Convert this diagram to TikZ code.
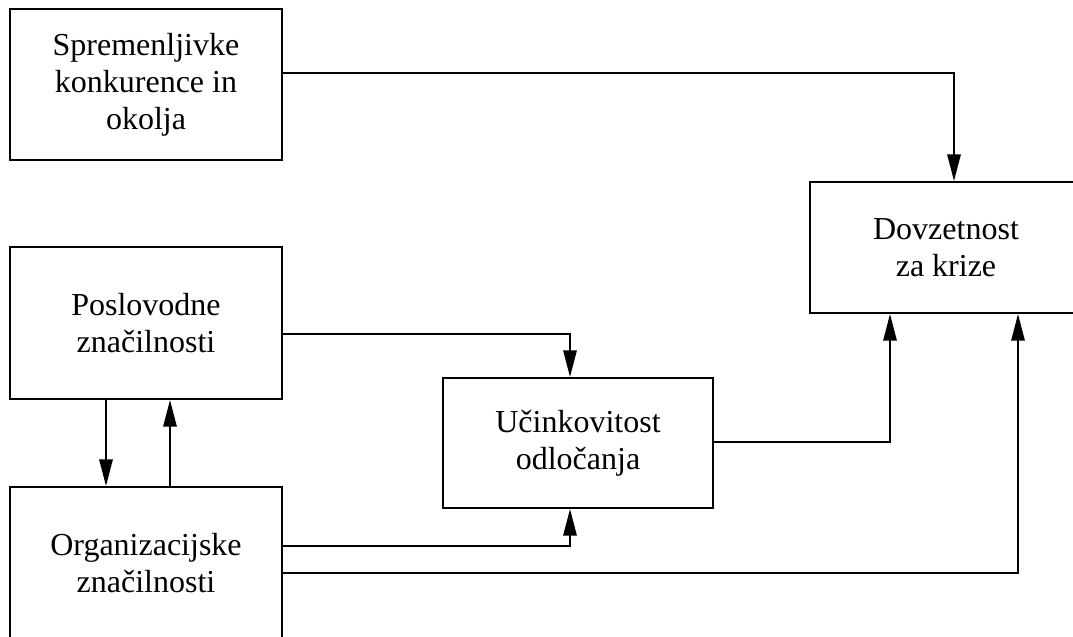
\documentclass[tikz,border=0pt]{standalone}
\usepackage{fontspec}
\setmainfont{Liberation Serif}
\usetikzlibrary{arrows.meta}
\begin{document}
\begin{tikzpicture}[x=0.75pt,y=-0.75pt,
  box/.style={draw,line width=1.5pt,align=center,inner sep=0pt,
    font=\fontsize{24}{27.75}\selectfont},
  arr/.style={line width=1.5pt,-{Triangle[length=20pt,width=10pt]}}]
\useasboundingbox (0,0) rectangle (1073,636);
\clip (0,0) rectangle (1073,636);

% boxes
\node[box,minimum width=204pt,minimum height=113.25pt] (A) at (146,84.5)
  {Spremenljivke\\konkurence in\\okolja};
\node[box,minimum width=204pt,minimum height=98.25pt] (B) at (946,247.5)
  {Dovzetnost\\za krize};
\node[box,minimum width=204pt,minimum height=114pt] (C) at (146,323)
  {Poslovodne\\značilnosti};
\node[box,minimum width=204pt,minimum height=114pt] (D) at (146,563)
  {Organizacijske\\značilnosti};
\node[box,minimum width=202.5pt,minimum height=97.5pt] (E) at (578,443)
  {Učinkovitost\\odločanja};

% connectors
\draw[arr] (A.east |- 0,73) -| (B.north -| 954,0);
\draw[arr] (C.east |- 0,334) -| (E.north -| 570,0);
\draw[arr] (C.south -| 106,0) -- (D.north -| 106,0);
\draw[arr] (D.north -| 170,0) -- (C.south -| 170,0);
\draw[arr] (E.east |- 0,442) -| (B.south -| 890,0);
\draw[arr] (D.east |- 0,546) -| (E.south -| 570,0);
\draw[arr] (D.east |- 0,573) -| (B.south -| 1018,0);
\end{tikzpicture}
\end{document}
